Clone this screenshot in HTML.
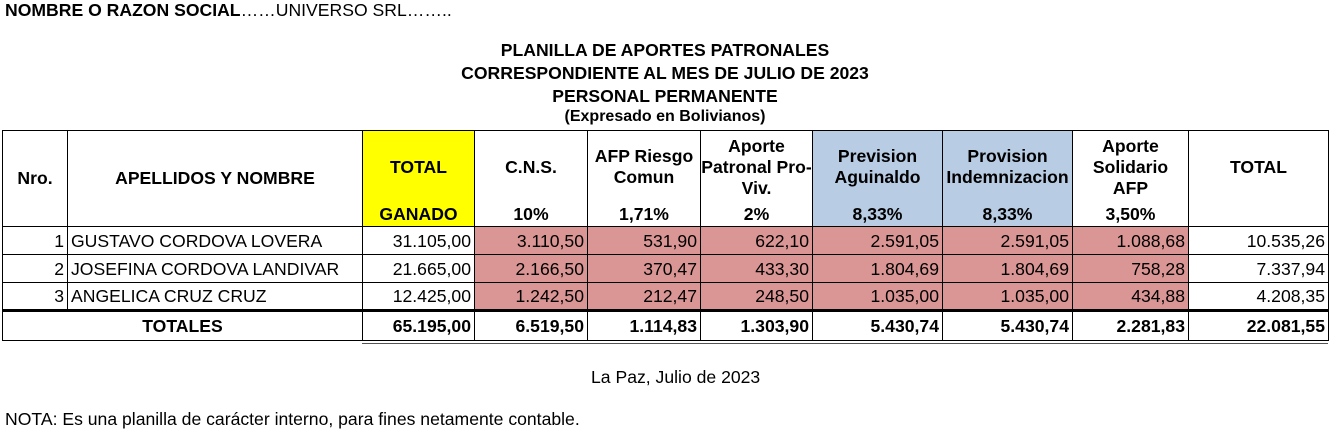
<!DOCTYPE html>
<html><head><meta charset="utf-8"><style>
body{margin:0;width:1330px;height:430px;background:#fff;font-family:"Liberation Sans",Arial,sans-serif;color:#000;position:relative;overflow:hidden}
.t{position:absolute;white-space:nowrap;font-size:17.6px}
.b{font-weight:bold}
table{position:absolute;left:2px;top:130px;border-collapse:collapse;table-layout:fixed}
td{border:1.5px solid #000;padding:0 3px;font-size:17.6px;white-space:nowrap;overflow:hidden;box-sizing:border-box}
.h td{font-weight:bold;text-align:center;vertical-align:top;padding:0;position:relative}
.hm{height:72px;display:flex;align-items:center;justify-content:center;line-height:21px;text-align:center}
.hb{height:23px;line-height:23px}
.r td{height:28px;line-height:26px;text-align:right}
.y{background:#ffff00}.bl{background:#b8cce4}.p{background:#da9694}
.tot td{font-weight:bold;text-align:right;height:30px;border-top:3px solid #000}
</style></head><body>
<div class="t" style="left:5px;top:0px"><b>NOMBRE O RAZON SOCIAL</b>……UNIVERSO SRL……..</div>
<div class="t b" style="left:0;width:1330px;text-align:center;top:40px">PLANILLA DE APORTES PATRONALES</div>
<div class="t b" style="left:0;width:1330px;text-align:center;top:63px">CORRESPONDIENTE AL MES DE JULIO DE 2023</div>
<div class="t b" style="left:0;width:1330px;text-align:center;top:86px">PERSONAL PERMANENTE</div>
<div class="t b" style="left:0;width:1330px;text-align:center;top:108px;font-size:16px">(Expresado en Bolivianos)</div>
<table>
<colgroup><col style="width:65px"><col style="width:295px"><col style="width:112px"><col style="width:113px"><col style="width:113px"><col style="width:112px"><col style="width:130px"><col style="width:130px"><col style="width:116px"><col style="width:140px"></colgroup>
<tr class="h" style="height:95px">
<td><div class="hm" style="height:95px">Nro.</div></td>
<td><div class="hm" style="height:95px">APELLIDOS Y NOMBRE</div></td>
<td class="y"><div class="hm">TOTAL</div><div class="hb">GANADO</div></td>
<td><div class="hm">C.N.S.</div><div class="hb">10%</div></td>
<td><div class="hm">AFP Riesgo<br>Comun</div><div class="hb">1,71%</div></td>
<td><div class="hm">Aporte<br>Patronal Pro-<br>Viv.</div><div class="hb">2%</div></td>
<td class="bl"><div class="hm">Prevision<br>Aguinaldo</div><div class="hb">8,33%</div></td>
<td class="bl"><div class="hm">Provision<br>Indemnizacion</div><div class="hb">8,33%</div></td>
<td><div class="hm">Aporte<br>Solidario<br>AFP</div><div class="hb">3,50%</div></td>
<td><div class="hm" style="height:72px">TOTAL</div></td>
</tr>
<tr class="r"><td>1</td><td style="text-align:left">GUSTAVO CORDOVA LOVERA</td><td>31.105,00</td><td class="p">3.110,50</td><td class="p">531,90</td><td class="p">622,10</td><td class="p">2.591,05</td><td class="p">2.591,05</td><td class="p">1.088,68</td><td>10.535,26</td></tr>
<tr class="r"><td>2</td><td style="text-align:left">JOSEFINA CORDOVA LANDIVAR</td><td>21.665,00</td><td class="p">2.166,50</td><td class="p">370,47</td><td class="p">433,30</td><td class="p">1.804,69</td><td class="p">1.804,69</td><td class="p">758,28</td><td>7.337,94</td></tr>
<tr class="r"><td>3</td><td style="text-align:left">ANGELICA CRUZ CRUZ</td><td>12.425,00</td><td class="p">1.242,50</td><td class="p">212,47</td><td class="p">248,50</td><td class="p">1.035,00</td><td class="p">1.035,00</td><td class="p">434,88</td><td>4.208,35</td></tr>
<tr class="tot"><td colspan="2" style="text-align:center">TOTALES</td><td>65.195,00</td><td>6.519,50</td><td>1.114,83</td><td>1.303,90</td><td>5.430,74</td><td>5.430,74</td><td>2.281,83</td><td>22.081,55</td></tr>
</table>
<div style="position:absolute;left:362px;top:343px;width:966px;height:1px;background:#555"></div>
<div class="t" style="left:591px;top:367px">La Paz, Julio de 2023</div>
<div class="t" style="left:5px;top:409px">NOTA: Es una planilla de carácter interno, para fines netamente contable.</div>
</body></html>
